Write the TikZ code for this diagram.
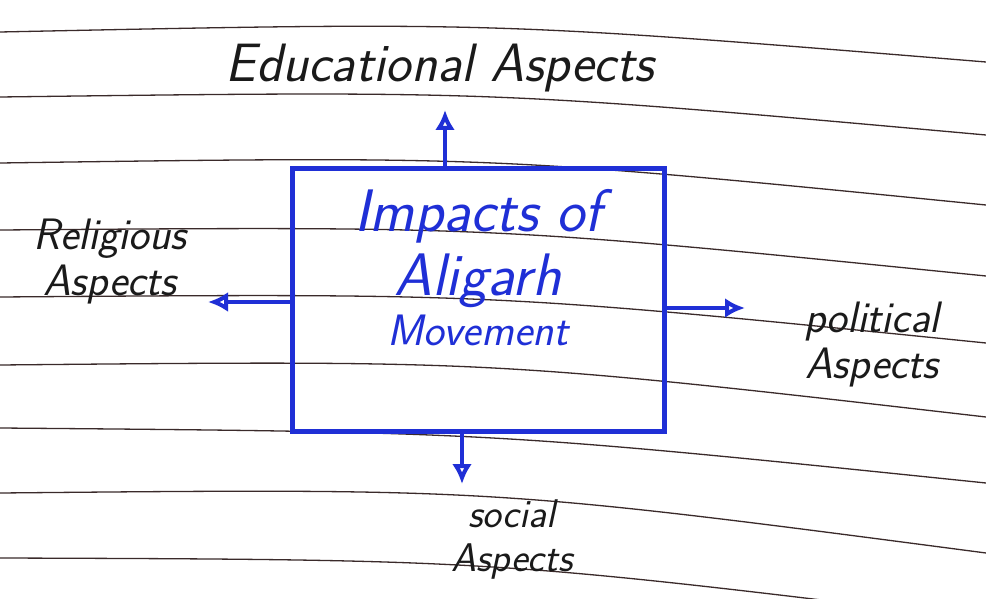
\documentclass[tikz,border=0pt]{standalone}
\usepackage{fontspec}
\usetikzlibrary{arrows.meta,positioning}
\definecolor{inkblue}{HTML}{1F2FD6}
\definecolor{inkblack}{HTML}{1A1A1A}
\definecolor{ruleline}{HTML}{3A2A2A}
\tikzset{
  rule/.style={draw=ruleline, line width=1.3pt},
  hub/.style={draw=inkblue, line width=5pt, minimum width=372pt, minimum height=262pt, inner sep=0pt},
  hubtext/.style={text=inkblue, align=center, font=\sffamily\itshape\fontsize{60}{64}\selectfont},
  aspect/.style={text=inkblack, align=center, font=\sffamily\itshape\fontsize{44}{46}\selectfont},
  flow/.style={-{Latex[open,length=20pt,width=20pt]}, draw=inkblue, line width=4pt},
}
\begin{document}
\begin{tikzpicture}[x=1pt,y=-1pt]
\useasboundingbox (0,0) rectangle (986,599);
\fill[white] (0,0) rectangle (986,599);

% ruled paper
\foreach \a/\m/\c in {32/21.7/62, 97/90.7/135, 163/156/205, 230/226.3/276,
  297/293.3/343, 365/360.3/417, 428/432.2/483, 493/488.3/553, 558/559.7/620}
  \draw[rule] (0,\a) .. controls (493,\m) .. (986,\c);

\node[hub] (box) at (478,300) {};
\node[hubtext] (title) at (478,268) {Impacts of\\Aligarh\\[-14pt]{\fontsize{44}{48}\selectfont Movement}};

\node[aspect, font=\sffamily\itshape\fontsize{54}{56}\selectfont] (edu) at (440,68) {Educational Aspects};
\node[aspect] (rel) at (110,262) {Religious\\Aspects};
\node[aspect] (pol) at (872,345) {political\\Aspects};
\node[aspect, font=\sffamily\itshape\fontsize{40}{44}\selectfont] (soc) at (512,540) {social\\Aspects};

\coordinate (edutip) at (445,110);
\coordinate (reltip) at (208,302);
\coordinate (poltip) at (745,308);
\coordinate (soctip) at (462,484);

\draw[flow] (box.north -| edutip) -- (edutip);
\draw[flow] (box.west |- reltip) -- (reltip);
\draw[flow] (box.east |- poltip) -- (poltip);
\draw[flow] (box.south -| soctip) -- (soctip);
\end{tikzpicture}
\end{document}
